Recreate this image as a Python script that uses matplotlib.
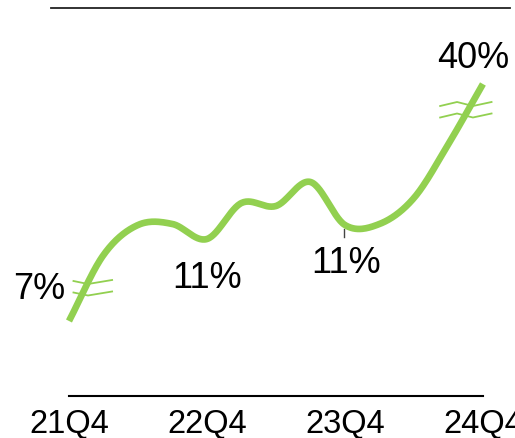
import numpy as np
import matplotlib
matplotlib.use('Agg')
import matplotlib.pyplot as plt

plt.rcParams['font.family'] = ['Liberation Sans', 'DejaVu Sans']

quarters = ['21Q4', '22Q4', '23Q4', '24Q4']
tick_idx = [0, 4, 8, 12]
# quarterly index values (broken axis, so only relative heights)
values = [75, 141, 171, 172, 157, 193, 190, 214, 171, 172, 198, 252, 312]
labels = ['7%', '11%', '11%', '40%']

green = '#92D050'


def catmull_rom(x, y, n=30):
    x = np.asarray(x, float)
    y = np.asarray(y, float)
    px = np.concatenate([[2 * x[0] - x[1]], x, [2 * x[-1] - x[-2]]])
    py = np.concatenate([[2 * y[0] - y[1]], y, [2 * y[-1] - y[-2]]])
    xs, ys = [], []
    t = np.linspace(0, 1, n, endpoint=False)
    for i in range(1, len(px) - 2):
        for p, out in ((px, xs), (py, ys)):
            p0, p1, p2, p3 = p[i - 1], p[i], p[i + 1], p[i + 2]
            out.append(0.5 * (2 * p1 + (-p0 + p2) * t
                              + (2 * p0 - 5 * p1 + 4 * p2 - p3) * t ** 2
                              + (-p0 + 3 * p1 - 3 * p2 + p3) * t ** 3))
    xs.append([x[-1]])
    ys.append([y[-1]])
    return np.concatenate(xs), np.concatenate(ys)


fig = plt.figure(figsize=(5.15, 4.39), dpi=100)
ax = fig.add_axes([0, 0, 1, 1])
ax.set_xlim(-2.0, 12.93)
ax.set_ylim(-42, 397)
ax.axis('off')

x = np.arange(len(values))
sx, sy = catmull_rom(x, values)
ax.plot(sx, sy, color=green, lw=4.8, solid_capstyle='butt', zorder=3)

# frame lines
ax.plot([-0.52, 12.78], [388, 388], color='#222222', lw=1.3)
ax.plot([0, 12], [0, 0], color='black', lw=1.5)

# axis break marks
def brk(xc, yc, xs_off, ys_off):
    for dy in (0, -11.5):
        ax.plot(xc + np.array(xs_off), yc + dy + np.array(ys_off),
                color=green, lw=1.3, zorder=4)

brk(0.55, 113, [-0.42, 0.0, 0.7], [2, -1, 3])
brk(11.25, 290, [-0.49, 0.0, 0.46, 1.0], [0, 4, 0, 4])

# value labels
ax.text(-0.87, 397 - 299, labels[0], fontsize=26, ha='center', va='baseline')
ax.text(4.0, 397 - 288, labels[1], fontsize=26, ha='center', va='baseline')
ax.text(8.03, 397 - 273, labels[2], fontsize=26, ha='center', va='baseline')
ax.text(11.71, 397 - 68, labels[3], fontsize=26, ha='center', va='baseline')
ax.plot([7.97, 7.97], [397 - 230, 397 - 238], color='#444444', lw=1.0)

for i, q in zip(tick_idx, quarters):
    ax.text(i, 397 - 433, q, fontsize=23.5, ha='center', va='baseline')

fig.savefig('out.png', dpi=100)
